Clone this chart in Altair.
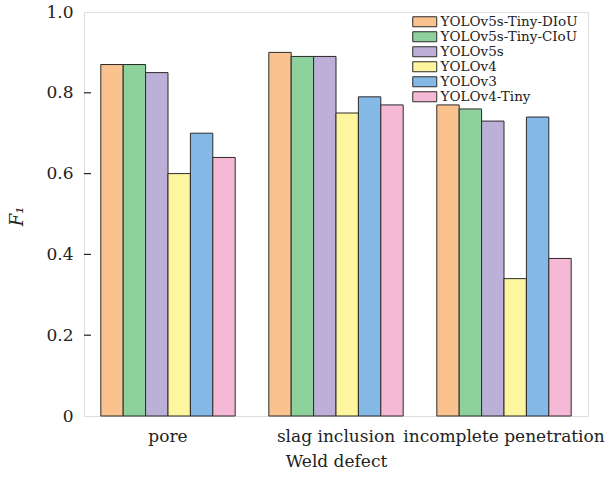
import altair as alt
import pandas as pd

defects = ["pore", "slag inclusion", "incomplete penetration"]
models = ["YOLOv5s-Tiny-DIoU", "YOLOv5s-Tiny-CIoU", "YOLOv5s", "YOLOv4", "YOLOv3", "YOLOv4-Tiny"]
colors = ["#F9C28E", "#8ED19C", "#BDB0D8", "#FEF59F", "#84B9E5", "#F5B9D6"]
f1_pore = [0.87, 0.87, 0.85, 0.60, 0.70, 0.64]
f1_slag = [0.90, 0.89, 0.89, 0.75, 0.79, 0.77]
f1_incomplete = [0.77, 0.76, 0.73, 0.34, 0.74, 0.39]
y_ticks = [0.2, 0.4, 0.6, 0.8]

rows = []
for d, vals in zip(defects, [f1_pore, f1_slag, f1_incomplete]):
    for m, v in zip(models, vals):
        rows.append({"defect": d, "model": m, "f1": v})
df = pd.DataFrame(rows)

FONT = "DejaVu Serif"

bars = alt.Chart(df).mark_bar(stroke="#2a2a2a", strokeWidth=1).encode(
    x=alt.X("defect:N", sort=defects,
            scale=alt.Scale(paddingInner=0.2, paddingOuter=0.1),
            axis=alt.Axis(title="Weld defect", labelAngle=0, domain=False, ticks=False,
                          labelFont=FONT, titleFont=FONT, labelLimit=400,
                          labelFontSize=17, titleFontSize=17, labelPadding=12,
                          titlePadding=9, titleFontWeight="normal",
                          labelColor="#222", titleColor="#222")),
    xOffset=alt.XOffset("model:N", sort=models, scale=alt.Scale(paddingInner=0, paddingOuter=0)),
    y=alt.Y("f1:Q", scale=alt.Scale(domain=[0, 1.0], nice=False),
            axis=alt.Axis(title="F₁", values=[0, 0.2, 0.4, 0.6, 0.8, 1.0],
                          labelExpr="datum.value == 0 ? '0' : format(datum.value, '.1f')",
                          domain=False, ticks=False, grid=False,
                          labelFont=FONT, titleFont=FONT,
                          labelFontSize=17, titleFontSize=18, labelPadding=11,
                          titleFontStyle="italic", titleFontWeight="normal",
                          titleX=-58, titleY=204, titleAngle=270,
                          labelColor="#222", titleColor="#222")),
    color=alt.Color("model:N", sort=models,
                    scale=alt.Scale(domain=models, range=colors),
                    legend=alt.Legend(title=None, orient="none", legendX=334, legendY=3,
                                      padding=0,
                                      symbolType="M-2.4,-1H2.4V1H-2.4Z", symbolSize=100,
                                      symbolStrokeColor="#2a2a2a", symbolStrokeWidth=1,
                                      symbolOpacity=1,
                                      labelFont=FONT,
                                      labelFontSize=13.5, labelColor="#222",
                                      rowPadding=0, labelOffset=9)),
)

ticks = alt.Chart(pd.DataFrame({"t": y_ticks})).mark_rule(color="#222", strokeWidth=1.2).encode(
    y="t:Q", x=alt.value(0), x2=alt.value(7)
)

chart = alt.layer(bars, ticks).properties(
    width=504, height=404,
    autosize=alt.AutoSizeParams(type="none"),
    padding={"left": 84, "top": 12, "right": 21, "bottom": 68},
).configure_view(stroke="#111", strokeWidth=1.8).configure(font=FONT)

chart.save("out.html", embed_options={"renderer": "svg", "actions": False})
